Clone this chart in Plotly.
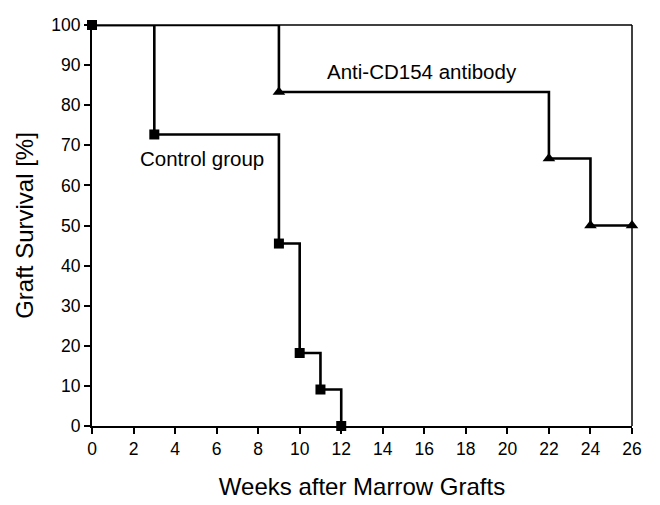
import plotly.graph_objects as go

control_weeks = [0, 3, 9, 10, 11, 12]
control_survival = [100, 72.7, 45.5, 18.2, 9.1, 0]
anti_weeks = [0, 9, 22, 24, 26]
anti_survival = [100, 83.3, 66.7, 50, 50]
anti_marker_weeks = [9, 22, 24, 26]
anti_marker_survival = [83.3, 66.7, 50, 50]
x_ticks = list(range(0, 27, 2))
y_ticks = list(range(0, 101, 10))

font = "Liberation Sans, Arial, sans-serif"
fig = go.Figure()
fig.add_trace(go.Scatter(x=anti_weeks, y=anti_survival, mode="lines", line=dict(shape="hv", color="black", width=2.6), cliponaxis=False, showlegend=False))
fig.add_trace(go.Scatter(x=anti_marker_weeks, y=anti_marker_survival, mode="markers", marker=dict(symbol="triangle-up", size=11, color="black"), cliponaxis=False, showlegend=False))
fig.add_trace(go.Scatter(x=control_weeks, y=control_survival, mode="lines+markers", line=dict(shape="hv", color="black", width=2.6), marker=dict(symbol="square", size=10, color="black"), cliponaxis=False, showlegend=False))

fig.add_annotation(x=15.9, y=88.3, xref="x", yref="y", text="Anti-CD154 antibody", showarrow=False, font=dict(family=font, size=20.5, color="black"))
fig.add_annotation(x=5.32, y=66.8, xref="x", yref="y", text="Control group", showarrow=False, font=dict(family=font, size=20.5, color="black"))

fig.add_shape(type="line", xref="x domain", yref="y domain", x0=0, x1=1, y0=1, y1=1, line=dict(color="black", width=1.5))
fig.add_shape(type="line", xref="x domain", yref="y domain", x0=1, x1=1, y0=0, y1=1, line=dict(color="black", width=1.5))

fig.update_xaxes(range=[0, 26], tickvals=x_ticks, ticks="outside", ticklen=6, tickwidth=1.5, tickcolor="black",
                 showline=True, linecolor="black", linewidth=2, showgrid=False, zeroline=False, automargin=False,
                 tickfont=dict(family=font, size=17.5, color="black"),
                 title=dict(text="Weeks after Marrow Grafts", font=dict(family=font, size=24, color="black"), standoff=20))
fig.update_yaxes(range=[0, 100], tickvals=y_ticks, ticks="outside", ticklen=6, tickwidth=1.5, tickcolor="black",
                 showline=True, linecolor="black", linewidth=2, showgrid=False, zeroline=False, automargin=False,
                 tickfont=dict(family=font, size=17.5, color="black"),
                 title=dict(text="Graft Survival [%]", font=dict(family=font, size=24, color="black"), standoff=11))
fig.update_layout(width=652, height=497, margin=dict(l=84, r=28, t=17, b=79), plot_bgcolor="white", paper_bgcolor="white")
fig.write_html("out.html")
